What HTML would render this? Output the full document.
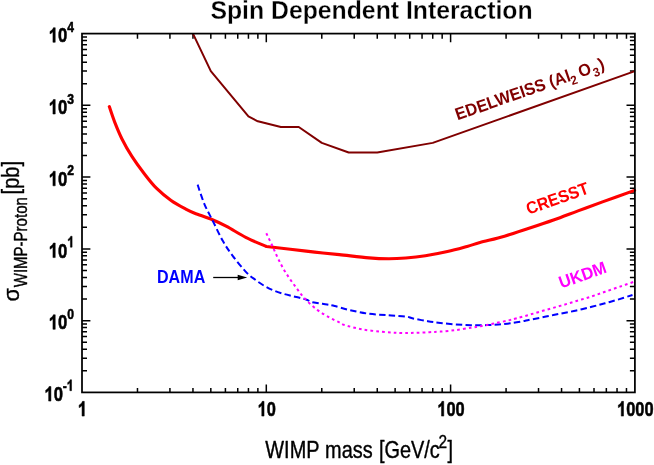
<!DOCTYPE html>
<html><head><meta charset="utf-8"><title>Spin Dependent Interaction</title>
<style>html,body{margin:0;padding:0;background:#fff;overflow:hidden;}svg{display:block;filter:blur(0.45px);}text{font-family:"Liberation Sans",sans-serif;}</style></head>
<body>
<svg width="654" height="465" viewBox="0 0 654 465">
<rect x="0" y="0" width="654" height="465" fill="#ffffff"/>
<path d="M137.48 392.4 v-4.5 M137.48 33.6 v5.2 M169.93 392.4 v-4.5 M169.93 33.6 v5.2 M192.96 392.4 v-4.5 M192.96 33.6 v5.2 M210.82 392.4 v-4.5 M210.82 33.6 v5.2 M225.41 392.4 v-4.5 M225.41 33.6 v5.2 M237.75 392.4 v-4.5 M237.75 33.6 v5.2 M248.44 392.4 v-4.5 M248.44 33.6 v5.2 M257.87 392.4 v-4.5 M257.87 33.6 v5.2 M266.3 392.4 v-7.9 M266.3 33.6 v8.6 M321.78 392.4 v-4.5 M321.78 33.6 v5.2 M354.23 392.4 v-4.5 M354.23 33.6 v5.2 M377.26 392.4 v-4.5 M377.26 33.6 v5.2 M395.12 392.4 v-4.5 M395.12 33.6 v5.2 M409.71 392.4 v-4.5 M409.71 33.6 v5.2 M422.05 392.4 v-4.5 M422.05 33.6 v5.2 M432.74 392.4 v-4.5 M432.74 33.6 v5.2 M442.17 392.4 v-4.5 M442.17 33.6 v5.2 M450.6 392.4 v-7.9 M450.6 33.6 v8.6 M506.08 392.4 v-4.5 M506.08 33.6 v5.2 M538.53 392.4 v-4.5 M538.53 33.6 v5.2 M561.56 392.4 v-4.5 M561.56 33.6 v5.2 M579.42 392.4 v-4.5 M579.42 33.6 v5.2 M594.01 392.4 v-4.5 M594.01 33.6 v5.2 M606.35 392.4 v-4.5 M606.35 33.6 v5.2 M617.04 392.4 v-4.5 M617.04 33.6 v5.2 M626.47 392.4 v-4.5 M626.47 33.6 v5.2 M82 370.8 h5 M634.9 370.8 h-5 M82 358.16 h5 M634.9 358.16 h-5 M82 349.2 h5 M634.9 349.2 h-5 M82 342.24 h5 M634.9 342.24 h-5 M82 336.56 h5 M634.9 336.56 h-5 M82 331.76 h5 M634.9 331.76 h-5 M82 327.59 h5 M634.9 327.59 h-5 M82 323.92 h5 M634.9 323.92 h-5 M82 320.64 h8.4 M634.9 320.64 h-8.4 M82 299.04 h5 M634.9 299.04 h-5 M82 286.4 h5 M634.9 286.4 h-5 M82 277.44 h5 M634.9 277.44 h-5 M82 270.48 h5 M634.9 270.48 h-5 M82 264.8 h5 M634.9 264.8 h-5 M82 260 h5 M634.9 260 h-5 M82 255.83 h5 M634.9 255.83 h-5 M82 252.16 h5 M634.9 252.16 h-5 M82 248.88 h8.4 M634.9 248.88 h-8.4 M82 227.28 h5 M634.9 227.28 h-5 M82 214.64 h5 M634.9 214.64 h-5 M82 205.68 h5 M634.9 205.68 h-5 M82 198.72 h5 M634.9 198.72 h-5 M82 193.04 h5 M634.9 193.04 h-5 M82 188.24 h5 M634.9 188.24 h-5 M82 184.07 h5 M634.9 184.07 h-5 M82 180.4 h5 M634.9 180.4 h-5 M82 177.12 h8.4 M634.9 177.12 h-8.4 M82 155.52 h5 M634.9 155.52 h-5 M82 142.88 h5 M634.9 142.88 h-5 M82 133.92 h5 M634.9 133.92 h-5 M82 126.96 h5 M634.9 126.96 h-5 M82 121.28 h5 M634.9 121.28 h-5 M82 116.48 h5 M634.9 116.48 h-5 M82 112.31 h5 M634.9 112.31 h-5 M82 108.64 h5 M634.9 108.64 h-5 M82 105.36 h8.4 M634.9 105.36 h-8.4 M82 83.76 h5 M634.9 83.76 h-5 M82 71.12 h5 M634.9 71.12 h-5 M82 62.16 h5 M634.9 62.16 h-5 M82 55.2 h5 M634.9 55.2 h-5 M82 49.52 h5 M634.9 49.52 h-5 M82 44.72 h5 M634.9 44.72 h-5 M82 40.55 h5 M634.9 40.55 h-5 M82 36.88 h5 M634.9 36.88 h-5" stroke="#000" stroke-width="1.5" fill="none"/>
<polyline points="192.96,33.6 210.82,71.12 248.44,116.48 257.87,121.28 280.89,126.96 298.75,126.96 321.78,142.88 348.71,152.55 377.26,152.55 432.74,142.88 634.9,71.12" fill="none" stroke="#800000" stroke-width="2" stroke-linejoin="round"/>
<path d="M109.3 106.6 C110.2 109.18 112.57 116.67 114.7 122.1 C116.83 127.53 119.23 133.48 122.1 139.2 C124.97 144.92 128.23 150.68 131.9 156.4 C135.57 162.12 140.02 168.2 144.1 173.5 C148.18 178.8 151.9 183.7 156.4 188.2 C160.9 192.7 166.2 197.02 171.1 200.5 C176 203.98 181.87 206.98 185.8 209.1 C189.73 211.22 190.35 211.47 194.7 213.2 C199.05 214.93 206.58 217.3 211.9 219.5 C217.22 221.7 220.88 223.38 226.6 226.4 C232.32 229.42 239.57 234.25 246.2 237.6 C252.83 240.95 263.03 245.02 266.4 246.5 L266.4 246.5 C270.38 246.95 282.23 248.27 290.3 249.2 C298.37 250.13 306.63 251.2 314.8 252.1 C322.97 253 330.27 253.63 339.3 254.6 C348.33 255.57 360.78 257.2 369 257.9 C377.22 258.6 382.47 258.78 388.6 258.8 C394.73 258.82 399.67 258.52 405.8 258 C411.93 257.48 418.45 256.78 425.4 255.7 C432.35 254.62 440.55 253.05 447.5 251.5 C454.45 249.95 461.68 247.88 467.1 246.4 C472.52 244.92 473.77 244.3 480 242.6 C486.23 240.9 496.33 238.58 504.5 236.2 C512.67 233.82 520.83 231 529 228.3 C537.17 225.6 545.33 222.9 553.5 220 C561.67 217.1 569.83 213.92 578 210.9 C586.17 207.88 593.07 205.32 602.5 201.9 C611.93 198.48 629.25 192.32 634.6 190.4" fill="none" stroke="#ff0000" stroke-width="3.1" stroke-linecap="round" stroke-linejoin="round"/>
<path d="M197.6 184.7 C198.75 187.97 201.92 198.17 204.5 204.3 C207.08 210.43 210.03 215.37 213.1 221.5 C216.17 227.63 219.63 235.38 222.9 241.1 C226.17 246.82 228.83 250.63 232.7 255.8 C236.57 260.97 242.33 268.1 246.1 272.1 C249.87 276.1 252.23 277.48 255.3 279.8 C258.37 282.12 261.45 284.22 264.5 286 C267.55 287.78 270.55 289.23 273.6 290.5 C276.65 291.77 279.73 292.68 282.8 293.6 C285.87 294.52 288.93 295.23 292 296 C295.07 296.77 298.65 297.53 301.2 298.2 C303.75 298.87 305.52 299.33 307.3 300 C309.08 300.67 309.87 301.63 311.9 302.2 C313.93 302.77 316.97 303.02 319.5 303.4 C322.03 303.78 324.57 304.07 327.1 304.5 C329.63 304.93 330.98 305.08 334.7 306 C338.42 306.92 343.68 308.7 349.4 310 C355.12 311.3 362.47 312.92 369 313.8 C375.53 314.68 382.47 314.85 388.6 315.3 C394.73 315.75 401.72 315.97 405.8 316.5 C409.88 317.03 409.43 317.72 413.1 318.5 C416.77 319.28 423.27 320.47 427.8 321.2 C432.33 321.93 435.67 322.37 440.3 322.9 C444.93 323.43 450.5 324.02 455.6 324.4 C460.7 324.78 465.8 325.08 470.9 325.2 C476 325.32 481.62 325.23 486.2 325.1 C490.78 324.97 494.33 324.72 498.4 324.4 C502.47 324.08 506.27 323.78 510.6 323.2 C514.93 322.62 521.07 321.5 524.4 320.9 C527.73 320.3 527.02 320.32 530.6 319.6 C534.18 318.88 540.8 317.62 545.9 316.6 C551 315.58 556.1 314.52 561.2 313.5 C566.3 312.48 571.42 311.62 576.5 310.5 C581.58 309.38 586.95 308 591.7 306.8 C596.45 305.6 600.62 304.5 605 303.3 C609.38 302.1 613.42 300.98 618 299.6 C622.58 298.22 630.08 295.77 632.5 295" fill="none" stroke="#0000ff" stroke-width="2.0" stroke-dasharray="6.4 3.3"/>
<path d="M266.3 233.2 C267.32 235.33 270.37 241.62 272.4 246 C274.43 250.38 276.25 255.02 278.5 259.5 C280.75 263.98 283.08 268.38 285.9 272.9 C288.72 277.42 292.22 282.28 295.4 286.6 C298.58 290.92 301.35 294.92 305 298.8 C308.65 302.68 313.22 306.78 317.3 309.9 C321.38 313.02 325.83 315.42 329.5 317.5 C333.17 319.58 336.8 321.15 339.3 322.4 C341.8 323.65 340.77 323.85 344.5 325 C348.23 326.15 355.57 328.18 361.7 329.3 C367.83 330.42 375.12 331.1 381.3 331.7 C387.48 332.3 393.33 332.72 398.8 332.9 C404.27 333.08 409 332.92 414.1 332.8 C419.2 332.68 425.03 332.4 429.4 332.2 C433.77 332 435.93 331.95 440.3 331.6 C444.67 331.25 450.5 330.73 455.6 330.1 C460.7 329.47 467.08 328.38 470.9 327.8 C474.72 327.22 475.95 327.03 478.5 326.6 C481.05 326.17 483.4 325.77 486.2 325.2 C489 324.63 491.73 323.97 495.3 323.2 C498.87 322.43 504.03 321.42 507.6 320.6 C511.17 319.78 512.87 319.33 516.7 318.3 C520.53 317.27 525.73 315.8 530.6 314.4 C535.47 313 540.8 311.37 545.9 309.9 C551 308.43 556.1 307.08 561.2 305.6 C566.3 304.12 571.42 302.53 576.5 301 C581.58 299.47 586.95 297.93 591.7 296.4 C596.45 294.87 600.28 293.43 605 291.8 C609.72 290.17 615.03 288.32 620 286.6 C624.97 284.88 632.33 282.35 634.8 281.5" fill="none" stroke="#ff00ff" stroke-width="2.0" stroke-dasharray="2.7 3.1"/>
<rect x="82" y="33.6" width="552.9" height="358.8" fill="none" stroke="#000" stroke-width="1.75"/>
<text transform="translate(371.5 19) scale(0.98 1)" font-family='"Liberation Sans", sans-serif' font-size="25.3" font-weight="bold" fill="#000" text-anchor="middle" stroke="#fff" stroke-width="0.28">Spin Dependent Interaction</text>
<path d="M806 0L525 0L525 1059Q371 915 162 846L162 1101Q272 1137 401 1237.5Q530 1338 578 1472L806 1472Z" transform="translate(77.84 416.1) scale(0.00801 -0.01001)" fill="#000" stroke="#000" stroke-width="0.5" stroke-linejoin="round" vector-effect="non-scaling-stroke"/>
<path d="M806 0L525 0L525 1059Q371 915 162 846L162 1101Q272 1137 401 1237.5Q530 1338 578 1472L806 1472Z" transform="translate(257.58 416.1) scale(0.00801 -0.01001)" fill="#000" stroke="#000" stroke-width="0.5" stroke-linejoin="round" vector-effect="non-scaling-stroke"/>
<text transform="translate(266.7 416.1) scale(0.8 1)" font-family='"Liberation Sans", sans-serif' font-size="20.5" font-weight="bold" fill="#000" text-anchor="start" stroke="#000" stroke-width="0.55" stroke-linejoin="round">0</text>
<path d="M806 0L525 0L525 1059Q371 915 162 846L162 1101Q272 1137 401 1237.5Q530 1338 578 1472L806 1472Z" transform="translate(437.32 416.1) scale(0.00801 -0.01001)" fill="#000" stroke="#000" stroke-width="0.5" stroke-linejoin="round" vector-effect="non-scaling-stroke"/>
<text transform="translate(446.44 416.1) scale(0.8 1)" font-family='"Liberation Sans", sans-serif' font-size="20.5" font-weight="bold" fill="#000" text-anchor="start" stroke="#000" stroke-width="0.55" stroke-linejoin="round">0</text>
<text transform="translate(455.56 416.1) scale(0.8 1)" font-family='"Liberation Sans", sans-serif' font-size="20.5" font-weight="bold" fill="#000" text-anchor="start" stroke="#000" stroke-width="0.55" stroke-linejoin="round">0</text>
<path d="M806 0L525 0L525 1059Q371 915 162 846L162 1101Q272 1137 401 1237.5Q530 1338 578 1472L806 1472Z" transform="translate(617.06 416.1) scale(0.00801 -0.01001)" fill="#000" stroke="#000" stroke-width="0.5" stroke-linejoin="round" vector-effect="non-scaling-stroke"/>
<text transform="translate(626.18 416.1) scale(0.8 1)" font-family='"Liberation Sans", sans-serif' font-size="20.5" font-weight="bold" fill="#000" text-anchor="start" stroke="#000" stroke-width="0.55" stroke-linejoin="round">0</text>
<text transform="translate(635.3 416.1) scale(0.8 1)" font-family='"Liberation Sans", sans-serif' font-size="20.5" font-weight="bold" fill="#000" text-anchor="start" stroke="#000" stroke-width="0.55" stroke-linejoin="round">0</text>
<text transform="translate(644.42 416.1) scale(0.8 1)" font-family='"Liberation Sans", sans-serif' font-size="20.5" font-weight="bold" fill="#000" text-anchor="start" stroke="#000" stroke-width="0.55" stroke-linejoin="round">0</text>
<path d="M806 0L525 0L525 1059Q371 915 162 846L162 1101Q272 1137 401 1237.5Q530 1338 578 1472L806 1472Z" transform="translate(48.68 42.3) scale(0.00813 -0.00991)" fill="#000" stroke="#000" stroke-width="0.5" stroke-linejoin="round" vector-effect="non-scaling-stroke"/>
<text transform="translate(57.94 42.3) scale(0.82 1)" font-family='"Liberation Sans", sans-serif' font-size="20.3" font-weight="bold" fill="#000" text-anchor="start" stroke="#000" stroke-width="0.55" stroke-linejoin="round">0</text>
<text transform="translate(67.3 31.9) scale(0.8 1)" font-family='"Liberation Sans", sans-serif' font-size="15.2" font-weight="bold" fill="#000" text-anchor="start" stroke="#000" stroke-width="0.55" stroke-linejoin="round">4</text>
<path d="M806 0L525 0L525 1059Q371 915 162 846L162 1101Q272 1137 401 1237.5Q530 1338 578 1472L806 1472Z" transform="translate(48.68 114.06) scale(0.00813 -0.00991)" fill="#000" stroke="#000" stroke-width="0.5" stroke-linejoin="round" vector-effect="non-scaling-stroke"/>
<text transform="translate(57.94 114.06) scale(0.82 1)" font-family='"Liberation Sans", sans-serif' font-size="20.3" font-weight="bold" fill="#000" text-anchor="start" stroke="#000" stroke-width="0.55" stroke-linejoin="round">0</text>
<text transform="translate(67.3 103.66) scale(0.8 1)" font-family='"Liberation Sans", sans-serif' font-size="15.2" font-weight="bold" fill="#000" text-anchor="start" stroke="#000" stroke-width="0.55" stroke-linejoin="round">3</text>
<path d="M806 0L525 0L525 1059Q371 915 162 846L162 1101Q272 1137 401 1237.5Q530 1338 578 1472L806 1472Z" transform="translate(48.68 185.82) scale(0.00813 -0.00991)" fill="#000" stroke="#000" stroke-width="0.5" stroke-linejoin="round" vector-effect="non-scaling-stroke"/>
<text transform="translate(57.94 185.82) scale(0.82 1)" font-family='"Liberation Sans", sans-serif' font-size="20.3" font-weight="bold" fill="#000" text-anchor="start" stroke="#000" stroke-width="0.55" stroke-linejoin="round">0</text>
<text transform="translate(67.3 175.42) scale(0.8 1)" font-family='"Liberation Sans", sans-serif' font-size="15.2" font-weight="bold" fill="#000" text-anchor="start" stroke="#000" stroke-width="0.55" stroke-linejoin="round">2</text>
<path d="M806 0L525 0L525 1059Q371 915 162 846L162 1101Q272 1137 401 1237.5Q530 1338 578 1472L806 1472Z" transform="translate(48.68 257.58) scale(0.00813 -0.00991)" fill="#000" stroke="#000" stroke-width="0.5" stroke-linejoin="round" vector-effect="non-scaling-stroke"/>
<text transform="translate(57.94 257.58) scale(0.82 1)" font-family='"Liberation Sans", sans-serif' font-size="20.3" font-weight="bold" fill="#000" text-anchor="start" stroke="#000" stroke-width="0.55" stroke-linejoin="round">0</text>
<path d="M806 0L525 0L525 1059Q371 915 162 846L162 1101Q272 1137 401 1237.5Q530 1338 578 1472L806 1472Z" transform="translate(67.3 247.18) scale(0.00594 -0.00742)" fill="#000" stroke="#000" stroke-width="0.5" stroke-linejoin="round" vector-effect="non-scaling-stroke"/>
<path d="M806 0L525 0L525 1059Q371 915 162 846L162 1101Q272 1137 401 1237.5Q530 1338 578 1472L806 1472Z" transform="translate(48.68 329.34) scale(0.00813 -0.00991)" fill="#000" stroke="#000" stroke-width="0.5" stroke-linejoin="round" vector-effect="non-scaling-stroke"/>
<text transform="translate(57.94 329.34) scale(0.82 1)" font-family='"Liberation Sans", sans-serif' font-size="20.3" font-weight="bold" fill="#000" text-anchor="start" stroke="#000" stroke-width="0.55" stroke-linejoin="round">0</text>
<text transform="translate(67.3 318.94) scale(0.8 1)" font-family='"Liberation Sans", sans-serif' font-size="15.2" font-weight="bold" fill="#000" text-anchor="start" stroke="#000" stroke-width="0.55" stroke-linejoin="round">0</text>
<path d="M806 0L525 0L525 1059Q371 915 162 846L162 1101Q272 1137 401 1237.5Q530 1338 578 1472L806 1472Z" transform="translate(44.38 401.1) scale(0.00813 -0.00991)" fill="#000" stroke="#000" stroke-width="0.5" stroke-linejoin="round" vector-effect="non-scaling-stroke"/>
<text transform="translate(53.64 401.1) scale(0.82 1)" font-family='"Liberation Sans", sans-serif' font-size="20.3" font-weight="bold" fill="#000" text-anchor="start" stroke="#000" stroke-width="0.55" stroke-linejoin="round">0</text>
<text transform="translate(62.7 390.7) scale(0.8 1)" font-family='"Liberation Sans", sans-serif' font-size="15.2" font-weight="bold" fill="#000" text-anchor="start" stroke="#000" stroke-width="0.55" stroke-linejoin="round">-</text>
<path d="M806 0L525 0L525 1059Q371 915 162 846L162 1101Q272 1137 401 1237.5Q530 1338 578 1472L806 1472Z" transform="translate(66.75 390.7) scale(0.00594 -0.00742)" fill="#000" stroke="#000" stroke-width="0.5" stroke-linejoin="round" vector-effect="non-scaling-stroke"/>
<text transform="translate(265.3 457.7) scale(0.83 1)" font-family='"Liberation Sans", sans-serif' font-size="24" font-weight="normal" fill="#000" text-anchor="start" stroke="#000" stroke-width="0.4" stroke-linejoin="round">WIMP</text>
<text transform="translate(325.1 457.7) scale(0.83 1)" font-family='"Liberation Sans", sans-serif' font-size="24" font-weight="normal" fill="#000" text-anchor="start" stroke="#000" stroke-width="0.4" stroke-linejoin="round">mass</text>
<text transform="translate(378.9 457.7) scale(0.83 1)" font-family='"Liberation Sans", sans-serif' font-size="24" font-weight="normal" fill="#000" text-anchor="start" stroke="#000" stroke-width="0.4" stroke-linejoin="round">[GeV/c</text>
<text transform="translate(438.4 448.1) scale(0.82 1)" font-family='"Liberation Sans", sans-serif' font-size="18.8" font-weight="normal" fill="#000" text-anchor="start" stroke="#000" stroke-width="0.4" stroke-linejoin="round">2</text>
<text transform="translate(447.6 457.7) scale(0.83 1)" font-family='"Liberation Sans", sans-serif' font-size="24" font-weight="normal" fill="#000" text-anchor="start" stroke="#000" stroke-width="0.4" stroke-linejoin="round">]</text>
<text transform="translate(19.1 301.4) rotate(-90)" font-family='"Liberation Sans", sans-serif' font-size="21.8" font-weight="normal" fill="#000" text-anchor="start" stroke="#000" stroke-width="0.4" stroke-linejoin="round">σ</text>
<text transform="translate(26.7 287.2) rotate(-90) scale(0.79 1)" font-family='"Liberation Sans", sans-serif' font-size="19" font-weight="normal" fill="#000" text-anchor="start" stroke="#000" stroke-width="0.4" stroke-linejoin="round">WIMP-Proton</text>
<text transform="translate(18.9 194.4) rotate(-90) scale(0.81 1)" font-family='"Liberation Sans", sans-serif' font-size="24.8" font-weight="normal" fill="#000" text-anchor="start" stroke="#000" stroke-width="0.4" stroke-linejoin="round">[pb]</text>
<text transform="translate(457.6 120.3) rotate(-19.2) scale(0.95 1)" font-family='"Liberation Sans", sans-serif' font-size="17.1" font-weight="bold" fill="#800000" text-anchor="start">EDELWEISS (Al<tspan font-size="12.5" dy="4.5" dx="-1">2</tspan><tspan dy="-4.5" dx="4">O</tspan><tspan font-size="12.5" dy="4.5" dx="0.8">3</tspan><tspan dy="-4.5" dx="1.2">)</tspan></text>
<text transform="translate(528.5 214.8) rotate(-19.5) scale(0.94 1)" font-family='"Liberation Sans", sans-serif' font-size="17.1" font-weight="bold" fill="#ff0000" text-anchor="start">CRESST</text>
<text transform="translate(561.3 288.6) rotate(-19.5) scale(0.96 1)" font-family='"Liberation Sans", sans-serif' font-size="17.1" font-weight="bold" fill="#ff00ff" text-anchor="start">UKDM</text>
<text transform="translate(157 282.8) scale(0.92 1)" font-family='"Liberation Sans", sans-serif' font-size="17.5" font-weight="bold" fill="#0000ff" text-anchor="start">DAMA</text>
<path d="M213.2 277.5 H240" stroke="#000" stroke-width="1.3" fill="none"/>
<path d="M247.2 277.5 L237.7 274.7 L237.7 280.3 Z" fill="#000"/>
</svg>
</body></html>
